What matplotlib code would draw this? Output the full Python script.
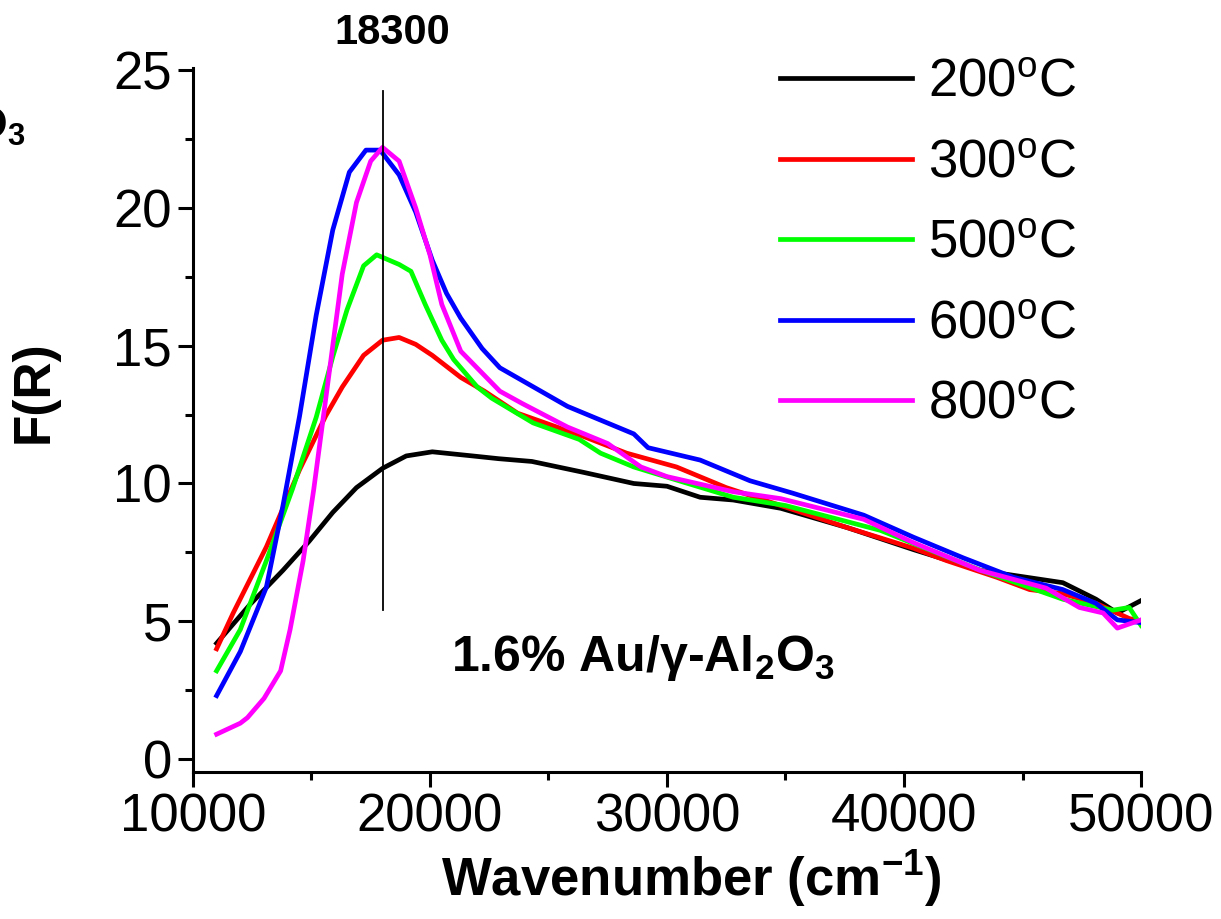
import matplotlib
matplotlib.use("Agg")
import matplotlib.pyplot as plt
from matplotlib.ticker import MultipleLocator

plt.rcParams['font.family'] = ['Liberation Sans', 'DejaVu Sans']
plt.rcParams['mathtext.fontset'] = 'custom'
plt.rcParams['mathtext.rm'] = 'Liberation Sans'
plt.rcParams['mathtext.it'] = 'Liberation Sans:italic'
plt.rcParams['mathtext.bf'] = 'Liberation Sans:bold'

# ---- data ----
x_200 = [11000, 12400, 13800, 14900, 15900, 16900, 18000, 19000, 20100, 21800, 22900,
         24300, 26500, 28600, 30000, 31400, 32800, 34800, 37600, 40400, 43200, 46700,
         48100, 49000, 50000]
y_200 = [4.2, 5.6, 6.85, 7.9, 8.95, 9.85, 10.55, 11.0, 11.15, 11.0, 10.9,
         10.8, 10.4, 10.0, 9.9, 9.5, 9.4, 9.1, 8.4, 7.6, 6.85, 6.4,
         5.8, 5.3, 5.75]

x_300 = [11000, 11700, 13100, 14500, 15600, 16300, 17200, 18000, 18700, 19400, 20100,
         21300, 22300, 23000, 23700, 26500, 28300, 30400, 32500, 34800, 37600, 40400,
         41800, 43900, 45300, 46700, 48100, 49500, 50000]
y_300 = [4.0, 5.3, 7.7, 10.5, 12.45, 13.5, 14.65, 15.2, 15.3, 15.05, 14.65,
         13.85, 13.35, 12.95, 12.55, 11.7, 11.1, 10.6, 9.85, 9.2, 8.4, 7.65,
         7.2, 6.6, 6.15, 6.0, 5.65, 5.1, 5.0]

x_500 = [11000, 12000, 13100, 14200, 15200, 15900, 16500, 17200, 17750, 18700, 19200,
         19800, 20500, 21000, 22000, 22600, 24350, 26300, 27200, 28600, 30500, 32800,
         35000, 39000, 43200, 46700, 48800, 49500, 50000]
y_500 = [3.2, 4.7, 7.2, 9.8, 12.4, 14.6, 16.3, 17.9, 18.3, 17.95, 17.7,
         16.5, 15.2, 14.5, 13.5, 13.1, 12.2, 11.6, 11.1, 10.6, 10.1, 9.5,
         9.2, 8.3, 6.86, 5.8, 5.4, 5.5, 4.85]

x_600 = [11000, 12000, 13100, 13800, 14500, 15200, 15900, 16600, 17300, 17900, 18700,
         19400, 20100, 20700, 21300, 22200, 22950, 25800, 28600, 29200, 31400, 33500,
         35300, 38300, 40400, 42500, 44600, 46700, 48100, 49000, 50000]
y_600 = [2.3, 3.9, 6.24, 9.2, 12.45, 16.1, 19.2, 21.3, 22.1, 22.1, 21.2,
         19.85, 18.1, 16.9, 16.0, 14.9, 14.2, 12.8, 11.8, 11.3, 10.85, 10.1,
         9.65, 8.85, 8.05, 7.3, 6.6, 6.15, 5.65, 5.05, 4.95]

x_800 = [11000, 12000, 12300, 13000, 13700, 14100, 14650, 15100, 15500, 15900, 16300,
         16900, 17500, 18000, 18700, 19400, 20000, 20500, 21300, 22950, 23900, 25800,
         27500, 28900, 30000, 32800, 34800, 38300, 40400, 43200, 46000, 47400, 48400,
         49000, 50000]
y_800 = [0.9, 1.3, 1.5, 2.2, 3.2, 4.7, 7.2, 9.8, 12.4, 15.0, 17.6,
         20.2, 21.7, 22.2, 21.7, 20.0, 18.3, 16.5, 14.8, 13.35, 12.9, 12.05,
         11.45, 10.6, 10.25, 9.7, 9.45, 8.7, 7.85, 6.85, 6.2, 5.5, 5.3,
         4.75, 5.05]

labels = ["200$^{\\mathrm{o}}$C", "300$^{\\mathrm{o}}$C", "500$^{\\mathrm{o}}$C",
          "600$^{\\mathrm{o}}$C", "800$^{\\mathrm{o}}$C"]
colors = ["#000000", "#FF0000", "#00FF00", "#0000FF", "#FF00FF"]
series = [(x_200, y_200), (x_300, y_300), (x_500, y_500), (x_600, y_600), (x_800, y_800)]

marker_x = 18000
marker_y = (5.4, 24.25)
peak_label = "18300"
sample_label = "1.6% Au/γ-Al$_\\mathbf{2}$O$_\\mathbf{3}$"

fig = plt.figure(figsize=(12.21, 9.19), dpi=100)
ax = fig.add_axes([0.158, 0.16, 0.7765, 0.766])

for (xs, ys), lab, c in zip(series, labels, colors):
    ax.plot(xs, ys, color=c, lw=3.4, label=lab, solid_joinstyle='round')

ax.plot([marker_x, marker_x], marker_y, color='black', lw=1.3)

ax.set_xlim(10000, 50000)
ax.set_ylim(-0.47, 25.08)
ax.xaxis.set_major_locator(MultipleLocator(10000))
ax.xaxis.set_minor_locator(MultipleLocator(5000))
ax.yaxis.set_major_locator(MultipleLocator(5))
ax.yaxis.set_minor_locator(MultipleLocator(2.5))
ax.spines['top'].set_visible(False)
ax.spines['right'].set_visible(False)
for s in ['left', 'bottom']:
    ax.spines[s].set_linewidth(2.2)
ax.tick_params(which='major', direction='out', length=11, width=2.2, labelsize=38, pad=4)
ax.tick_params(which='minor', direction='out', length=6, width=2.2)

ax.set_xlabel("Wavenumber (cm$^{\\mathbf{-1}}$)", fontsize=38, fontweight='bold')
ax.xaxis.set_label_coords(0.526, -0.108)
ax.set_ylabel("F(R)", fontsize=37, fontweight='bold')
ax.yaxis.set_label_coords(-0.142, 0.54)

ax.text(marker_x + 400, 26.35, peak_label, fontsize=30, fontweight='bold', ha='center', va='center')
ax.text(29000, 3.2, sample_label, fontsize=36, fontweight='bold', ha='center', va='baseline')

fig.text(0.021, 0.862, "O$_\\mathbf{3}$", fontsize=32, fontweight='bold', ha='right', va='center')

leg = ax.legend(loc='upper right', bbox_to_anchor=(0.954, 1.045), frameon=False, fontsize=38,
                handlelength=2.5, handletextpad=0.3, labelspacing=0.58, borderaxespad=0.0)

fig.savefig("out.png", dpi=100)
